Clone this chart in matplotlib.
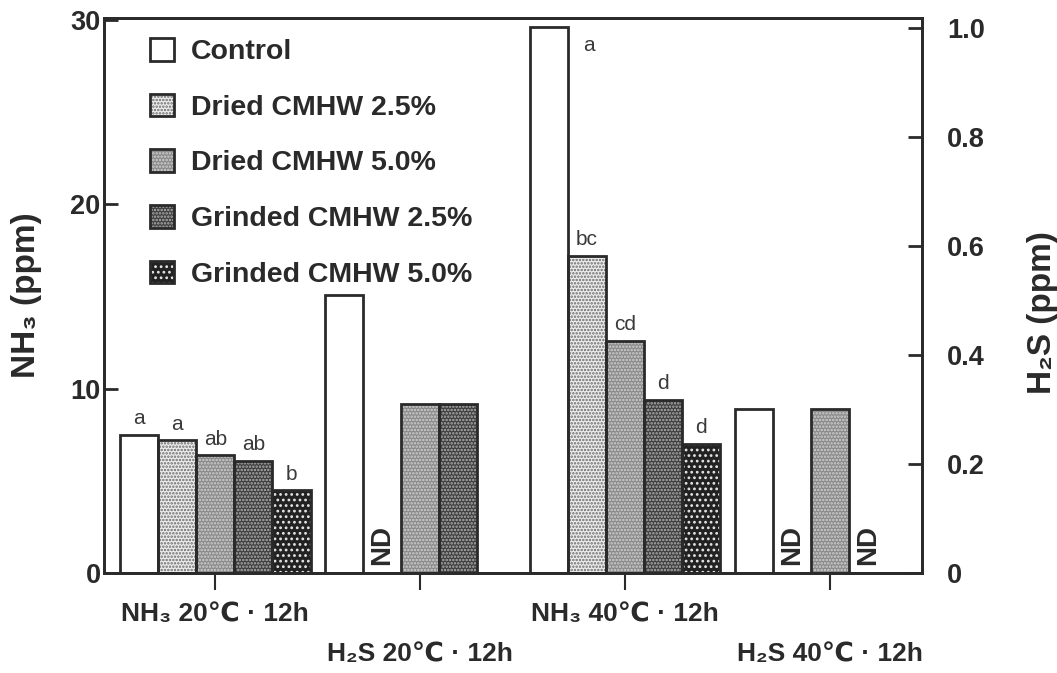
import numpy as np
import matplotlib
matplotlib.use('Agg')
import matplotlib.pyplot as plt
from matplotlib.patches import Patch

plt.rcParams['font.family'] = ['Liberation Sans', 'DejaVu Sans']
plt.rcParams['font.weight'] = 'bold'
plt.rcParams['hatch.linewidth'] = 1.2

# ---------------- data ----------------
groups = ['NH₃ 20℃ · 12h', 'H₂S 20℃ · 12h', 'NH₃ 40℃ · 12h', 'H₂S 40℃ · 12h']
series = ['Control', 'Dried CMHW 2.5%', 'Dried CMHW 5.0%',
          'Grinded CMHW 2.5%', 'Grinded CMHW 5.0%']

nh3_20 = [7.5, 7.2, 6.4, 6.1, 4.5]
nh3_20_letters = ['a', 'a', 'ab', 'ab', 'b']
nh3_40 = [29.6, 17.2, 12.6, 9.4, 7.0]
nh3_40_letters = ['a', 'bc', 'cd', 'd', 'd']

h2s_20 = [0.51, np.nan, 0.31, 0.31, np.nan]
h2s_20_nd = [False, True, False, False, False]
h2s_40 = [0.30, np.nan, 0.30, np.nan, np.nan]
h2s_40_nd = [False, True, False, True, False]

nh3_ticks = [0, 10, 20, 30]
h2s_ticks = [0, 0.2, 0.4, 0.6, 0.8, 1.0]
h2s_ticklabels = ['0', '0.2', '0.4', '0.6', '0.8', '1.0']

# ---------------- styles ----------------
styles = [
    dict(face='white', hatch=None, hcol='white'),
    dict(face='#ededed', hatch='.....', hcol='#6a6a6a'),
    dict(face='#8a8a8a', hatch='.....', hcol='#d0d0d0'),
    dict(face='#3e3e3e', hatch='.....', hcol='#b0b0b0'),
    dict(face='#222222', hatch='...', hcol='#e6e6e6'),
]
edge = '#2a2a2a'
w = 0.186

fig = plt.figure(figsize=(10.57, 6.73), dpi=100)
ax = fig.add_axes([0.0984, 0.1486, 0.774, 0.8247])
ax2 = ax.twinx()
ax.set_xlim(-0.543, 3.45)
ax.set_ylim(0, 30.1)
ax2.set_ylim(0, 1.018)


def draw(axis, gi, vals):
    for si, v in enumerate(vals):
        if np.isnan(v):
            continue
        x = gi + (si - 2) * w
        st = styles[si]
        axis.bar(x, v, w, color=st['face'], edgecolor=st['hcol'], hatch=st['hatch'],
                 linewidth=0, zorder=2)
        axis.bar(x, v, w, facecolor='none', edgecolor=edge, linewidth=2.0, zorder=3)


draw(ax, 0, nh3_20)
draw(ax2, 1, h2s_20)
draw(ax, 2, nh3_40)
draw(ax2, 3, h2s_40)

for gi, vals, lets in [(0, nh3_20, nh3_20_letters), (2, nh3_40, nh3_40_letters)]:
    for si, (v, l) in enumerate(zip(vals, lets)):
        x = gi + (si - 2) * w
        if v + 2.0 > ax.get_ylim()[1]:
            ax.text(x + w * 1.05, v - 0.5, l, fontsize=15, fontweight='normal',
                    color='#3a3a3a', ha='center', va='top', zorder=4)
        else:
            ax.text(x, v + 0.35, l, fontsize=15, fontweight='normal',
                    color='#3a3a3a', ha='center', va='bottom', zorder=4)

for gi, nds in [(1, h2s_20_nd), (3, h2s_40_nd)]:
    for si, nd in enumerate(nds):
        if nd:
            x = gi + (si - 2) * w
            ax2.text(x, 0.014, 'ND', rotation=90, ha='center', va='bottom',
                     fontsize=20, fontweight='bold', color='#2a2a2a', zorder=4)

# axes styling
for a in (ax, ax2):
    for s in a.spines.values():
        s.set_linewidth(2.0)
        s.set_color(edge)

ax.set_yticks(nh3_ticks)
ax.tick_params(axis='y', direction='in', length=10, width=2, labelsize=19.5,
               pad=2.5, colors=edge)
ax2.set_yticks(h2s_ticks)
ax2.set_yticklabels(h2s_ticklabels)
ax2.tick_params(axis='y', direction='in', length=10, width=2, labelsize=19.5,
                pad=18, colors=edge)

ax.set_xticks(range(len(groups)))
ax.set_xticklabels(groups)
ax.tick_params(axis='x', direction='out', length=12, width=1.5, labelsize=19,
               colors=edge)
for i, t in enumerate(ax.xaxis.get_major_ticks()):
    t.set_pad(9 if i % 2 == 0 else 38)

ax.set_ylabel('NH₃ (ppm)', fontsize=24, fontweight='bold', color=edge)
ax.yaxis.set_label_coords(-0.076, 0.5)
ax2.set_ylabel('H₂S (ppm)', fontsize=24, fontweight='bold', color=edge, rotation=90)
ax2.yaxis.set_label_coords(1.128, 0.47)

handles = []
for st in styles:
    p1 = Patch(facecolor=st['face'], edgecolor=st['hcol'], hatch=st['hatch'], linewidth=0)
    p2 = Patch(facecolor='none', edgecolor=edge, linewidth=2.0)
    handles.append((p1, p2))
leg = ax2.legend(handles, series, loc='upper left', bbox_to_anchor=(0.035, 0.995),
                 frameon=False, fontsize=20.5, handlelength=0.85, handleheight=0.85,
                 labelspacing=1.0, handletextpad=0.6, borderaxespad=0.2)
for t in leg.get_texts():
    t.set_color(edge)

fig.savefig('out.png', dpi=100)
